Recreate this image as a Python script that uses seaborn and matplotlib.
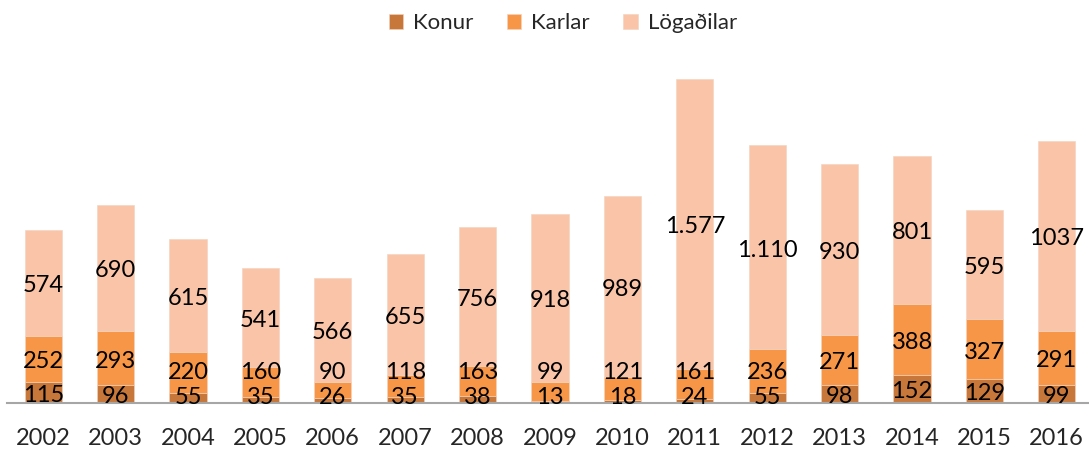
import matplotlib
matplotlib.use("Agg")
import matplotlib.pyplot as plt
import seaborn as sns

# data
years = ["2002", "2003", "2004", "2005", "2006", "2007", "2008", "2009",
         "2010", "2011", "2012", "2013", "2014", "2015", "2016"]
konur = [115, 96, 55, 35, 26, 35, 38, 13, 18, 24, 55, 98, 152, 129, 99]
karlar = [252, 293, 220, 160, 90, 118, 163, 99, 121, 161, 236, 271, 388, 327, 291]
logadilar = [574, 690, 615, 541, 566, 655, 756, 918, 989, 1577, 1110, 930, 801, 595, 1037]
logadilar_labels = ["574", "690", "615", "541", "566", "655", "756", "918",
                    "989", "1.577", "1.110", "930", "801", "595", "1037"]

sns.set_theme(style="white")
plt.rcParams["font.family"] = ["Lato", "DejaVu Sans"]

fig = plt.figure(figsize=(10.89, 4.51), dpi=100)
ax = fig.add_axes([7 / 1089, 48 / 451, 1086 / 1089, 353 / 451])

x = list(range(len(years)))
w = 0.515
bottom2 = [a + b for a, b in zip(konur, karlar)]

b1 = ax.bar(x, konur, width=w, color="#C8773A", edgecolor="#F3D2BE", linewidth=0.4, label="Konur")
b2 = ax.bar(x, karlar, width=w, bottom=konur, color="#F79646", edgecolor="#F3D2BE", linewidth=0.4, label="Karlar")
b3 = ax.bar(x, logadilar, width=w, bottom=bottom2, color="#F9C4A8", edgecolor="#F3D2BE", linewidth=0.4, label="Lögaðilar")

# labels sit in the middle of each segment, nudged up when the segment is too thin
fs = 17
for i in x:
    yk = max(konur[i] / 2, 44)
    ykk = max(konur[i] + karlar[i] / 2, yk + 135)
    yl = bottom2[i] + logadilar[i] / 2
    for yy, txt in [(yk, str(konur[i])), (ykk, str(karlar[i])), (yl, logadilar_labels[i])]:
        ax.annotate(txt, (i, yy), xytext=(0, -2), textcoords="offset points",
                    ha="center", va="center", fontsize=fs, color="black")

ax.set_xlim(-0.5, 14.5)
ax.set_ylim(0, 1920)
ax.set_xticks(x)
ax.set_xticklabels(years, fontsize=17)
ax.tick_params(axis="x", length=0, pad=18)
ax.set_yticks([])

sns.despine(ax=ax, left=True, top=True, right=True)
ax.spines["bottom"].set_color("#A6A6A6")
ax.spines["bottom"].set_linewidth(1.5)

fig.legend(handles=[b1, b2, b3], loc="upper center", bbox_to_anchor=(563 / 1089, 1.015),
           ncol=3, frameon=False, fontsize=16, handlelength=0.65, handleheight=0.65,
           handletextpad=0.45, columnspacing=1.5)

fig.savefig("out.png", dpi=100)
